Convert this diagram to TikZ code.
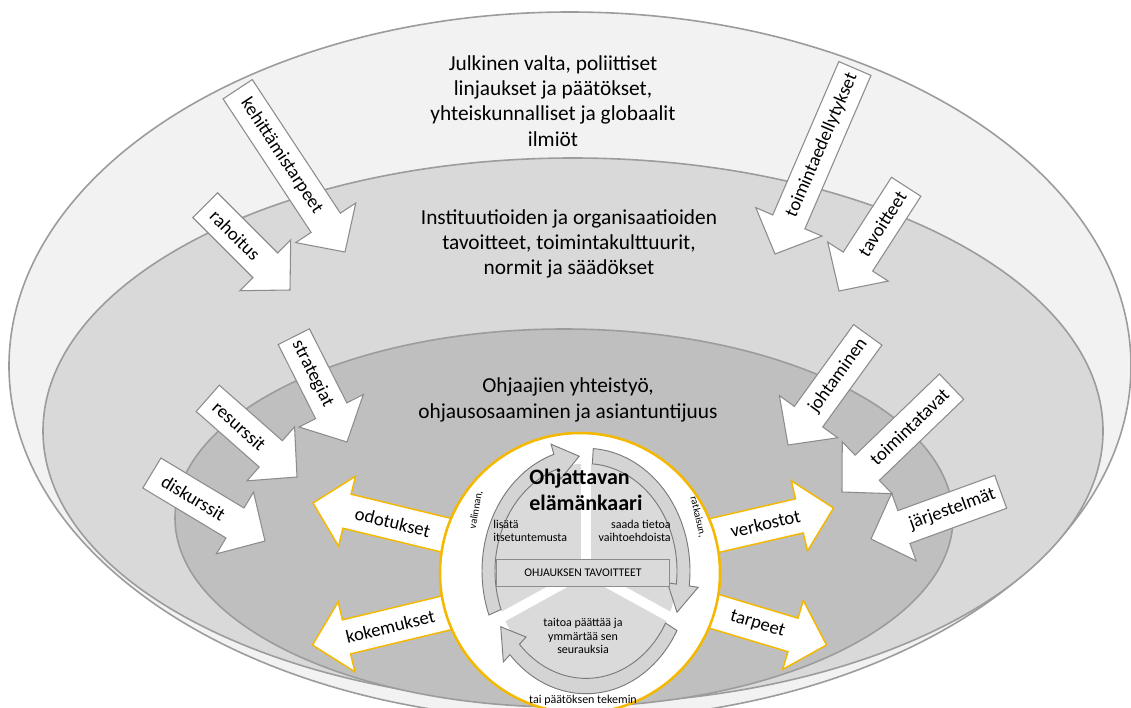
\documentclass[tikz,border=0pt]{standalone}
\usepackage{fontspec}
\setmainfont{Carlito}
\definecolor{outerfill}{HTML}{F2F2F2}
\definecolor{midfill}{HTML}{D9D9D9}
\definecolor{innerfill}{HTML}{BFBFBF}
\definecolor{rimline}{HTML}{9C9C9C}
\definecolor{arrowline}{HTML}{8C8C8C}
\definecolor{gold}{HTML}{F5B800}
\definecolor{diskfill}{HTML}{DADADA}
\definecolor{ringline}{HTML}{7A7A7A}
\definecolor{ringfill}{HTML}{D4D4D4}

% block arrow: name, tip, direction, length, text distance from tip, text rotation, style, text
\newcommand{\blockarrow}[8]{%
  \begin{scope}[shift={#2}, rotate=#3]
    \draw[#7] (0,0) -- (-35,-36) -- (-35,-17.5) -- (-#4,-17.5) -- (-#4,17.5)
      -- (-35,17.5) -- (-35,36) -- cycle;
    \node[arrowtext, rotate=#6] (#1) at (-#5,0) {#8};
  \end{scope}}

% curved arrow of the life-cycle ring: tail angle, tip angle (clockwise)
\newcommand{\ringarrow}[2]{%
  \draw[ringarrowstyle] (#1:104) arc[start angle=#1, end angle={#2+14}, radius=104]
    -- ({#2+14}:113) -- (#2:97.5) -- ({#2+14}:82) -- ({#2+14}:91)
    arc[start angle={#2+14}, end angle=#1, radius=91] -- cycle;}

\tikzset{
  rim/.style={draw=rimline, line width=1.2pt},
  whitearrow/.style={draw=arrowline, fill=white, line width=0.8pt, line join=miter},
  goldarrow/.style={draw=gold, fill=white, line width=1.1pt, line join=miter},
  arrowtext/.style={font=\fontsize{14}{16}\selectfont, inner sep=0pt},
  bigtext/.style={font=\fontsize{16}{19}\selectfont, align=center, inner sep=0pt},
  ringarrowstyle/.style={draw=ringline, fill=ringfill, line width=0.7pt, line join=miter},
  smalltext/.style={font=\fontsize{9}{10}\selectfont, inner sep=0pt},
  ringtext/.style={font=\fontsize{7.8}{9}\selectfont, inner sep=0pt}
}

\begin{document}
\begin{tikzpicture}[x=0.75pt,y=-0.75pt]
\useasboundingbox (0,0) rectangle (1131,707);
\clip (0,0) rectangle (1131,707);
\fill[white] (0,0) rectangle (1131,707);

% nested levels
\draw[rim, fill=outerfill] (570,366) ellipse [x radius=561, y radius=354];
\draw[rim, fill=midfill] (573,431) ellipse [x radius=530, y radius=273];
\draw[rim, fill=innerfill] (564,518) ellipse [x radius=389, y radius=189];

\node[bigtext] (society) at (553,101) {Julkinen valta, poliittiset\\linjaukset ja päätökset,\\yhteiskunnalliset ja globaalit\\ilmiöt};
\node[bigtext] (institutions) at (569,244) {Instituutioiden ja organisaatioiden\\tavoitteet, toimintakulttuurit,\\normit ja säädökset};
\node[bigtext] (counsellors) at (568,400) {Ohjaajien yhteistyö,\\ohjausosaaminen ja asiantuntijuus};

% influences pointing inwards
\blockarrow{kehit}{(345,252)}{-56.6}{195}{115}{-56.6}{whitearrow}{kehittämistarpeet}
\blockarrow{rahoitus}{(290,290)}{-45}{120}{77.5}{-45}{whitearrow}{rahoitus}
\blockarrow{toimed}{(775,254)}{-113.3}{202}{118.5}{66.7}{whitearrow}{toimintaedellytykset}
\blockarrow{tavoit}{(839,291)}{-122.8}{124}{80}{57.2}{whitearrow}{tavoitteet}
\blockarrow{strat}{(347,442)}{-63.2}{118}{76.5}{-63.2}{whitearrow}{strategiat}
\blockarrow{resurs}{(297,477)}{-41.4}{119}{77}{-41.4}{whitearrow}{resurssit}
\blockarrow{diskur}{(265,541)}{-31}{132}{83.5}{-31}{whitearrow}{diskurssit}
\blockarrow{johtam}{(788,445)}{-125.9}{136}{85.5}{54.1}{whitearrow}{johtaminen}
\blockarrow{toimtav}{(842,492)}{-136.1}{152}{93.5}{43.9}{whitearrow}{toimintatavat}
\blockarrow{jarj}{(871,539)}{-160}{138}{86.5}{20}{whitearrow}{järjestelmät}

% outputs pointing outwards
\blockarrow{odot}{(313,503)}{166.4}{170}{82}{-13.6}{goldarrow}{odotukset}
\blockarrow{kokem}{(312.5,645)}{-166.5}{170}{80}{13.5}{goldarrow}{kokemukset}
\blockarrow{verk}{(833.5,508)}{13}{145}{70}{13}{goldarrow}{verkostot}
\blockarrow{tarp}{(826.5,645)}{-16.7}{140}{72}{-16.7}{goldarrow}{tarpeet}

% life-cycle disc
\draw[draw=gold, fill=white, line width=1.9pt] (580,573) circle (140);
\begin{scope}[shift={(586,571)}, yscale=-1.18]
  \fill[diskfill] (0,0) circle (91);
  \foreach \a in {90,-25,205}
    \draw[white, line width=7.5pt] (0,0) -- (\a:96);
  \ringarrow{201}{94}
  \ringarrow{86}{-21}
  \ringarrow{-29}{-151}
\end{scope}

\node[anchor=west, align=left, inner sep=0pt, font=\fontsize{16.5}{19}\selectfont\bfseries] (title) at (529,490) {Ohjattavan\\elämänkaari};
\node[smalltext, anchor=west, align=left] (self) at (493,531) {lisätä\\itsetuntemusta};
\node[smalltext, anchor=east, align=right] (info) at (671,531) {saada tietoa\\vaihtoehdoista};
\node[smalltext, align=center] (decide) at (583,636) {taitoa päättää ja\\ymmärtää sen\\seurauksia};
\node[draw=arrowline, fill=diskfill, line width=0.6pt, minimum width=130, minimum height=20, inner sep=0pt, font=\fontsize{8.8}{10}\selectfont] (goals) at (583,573) {OHJAUKSEN TAVOITTEET};

\node[ringtext, rotate=80] (choice) at (476,510) {valinnan,};
\node[ringtext, rotate=-77] (solution) at (698,517) {ratkaisun,};
\node[smalltext] (making) at (583,700) {tai päätöksen tekemin};
\end{tikzpicture}
\end{document}
